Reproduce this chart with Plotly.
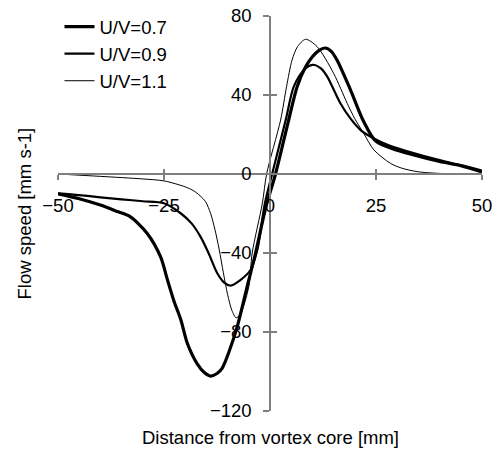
import plotly.graph_objects as go

# U/V = 0.7 (thick)
x_07 = [-50, -45, -40, -36, -33, -29, -25.8, -24.2, -22.7, -21, -19.5, -17.2, -15.5, -14, -12.5, -11.3, -9.5, -7.7, -5.5, -3.4, -1, 1.3, 4.4, 6.4, 8.4, 10, 11.5, 13, 14.5, 15.8, 19, 22, 25, 30, 32.4, 40, 45, 50]
y_07 = [-10, -12.5, -15.7, -19, -21.6, -30, -42, -53.5, -64, -74, -85.7, -96, -100.5, -102.3, -101, -98.4, -89, -77, -58, -40, -17, 0, 27.3, 44.2, 54.3, 59.4, 62.5, 63.8, 62, 57.7, 42.5, 27, 16.5, 12, 10.5, 6.3, 4.2, 1]

# U/V = 0.9 (medium)
x_09 = [-50, -45, -40, -35, -30, -25, -21, -18.5, -16.4, -14.5, -12.5, -10.8, -9.3, -7, -4.6, -3, -1.2, 0.5, 3.7, 5.6, 8, 10, 12, 13.5, 16.6, 19, 21.5, 24.5, 28, 32.4, 40, 45, 50]
y_09 = [-9.8, -10.7, -11.8, -12.8, -13.8, -14.8, -20, -25, -31.7, -40, -50, -55, -56.5, -53.7, -48.6, -38.5, -14.8, 0, 27.3, 44.2, 52.7, 55.3, 53.5, 49.3, 35.8, 28, 22, 18, 14.5, 11.5, 7, 4.5, 1.7]

# U/V = 1.1 (thin)
x_11 = [-50, -40, -30, -25, -20, -18, -16.5, -15.2, -14, -13, -12, -11, -10, -9, -8, -7, -5, -4.2, -1.8, -0.8, 2.5, 3.9, 5.2, 6.5, 8.4, 11.1, 15, 18.2, 20, 22.1, 24.5, 28.4, 31, 34.7, 40, 50]
y_11 = [0, -1.2, -2.5, -3.5, -6.5, -8.5, -11, -14, -20, -28, -38, -50, -61, -69, -72.8, -71, -57, -40, -14.8, 0, 27.3, 44.2, 57.7, 64.5, 68.2, 64.5, 51, 35.8, 28, 20.6, 12.2, 5.4, 3, 1.2, 0.3, 0]

x_ticks = [-50, -25, 0, 25, 50]
y_ticks = [-120, -80, -40, 0, 40, 80]

FONT = "Liberation Sans, Arial, sans-serif"
FS = 18.5
AX = "#7f7f7f"

fig = go.Figure()
fig.add_trace(go.Scatter(x=x_07, y=y_07, mode="lines", name="U/V=0.7",
                         line=dict(color="black", width=3.2, shape="spline", smoothing=0.8)))
fig.add_trace(go.Scatter(x=x_09, y=y_09, mode="lines", name="U/V=0.9",
                         line=dict(color="black", width=2.2, shape="spline", smoothing=0.8)))
fig.add_trace(go.Scatter(x=x_11, y=y_11, mode="lines", name="U/V=1.1",
                         line=dict(color="black", width=1.0, shape="spline", smoothing=0.8)))
# helper trace for the inside-tick overlay axes (ticks crossing the axis lines)
fig.add_trace(go.Scatter(x=[None], y=[None], xaxis="x2", yaxis="y2", showlegend=False, hoverinfo="skip"))

common_x = dict(range=[-50, 50], tickvals=x_ticks, showgrid=False, zeroline=False, automargin=False,
                anchor="free", position=0.6, tickcolor=AX, tickwidth=1.5, ticklen=5)
common_y = dict(range=[-120, 80], tickvals=y_ticks, showgrid=False, zeroline=False, automargin=False,
                anchor="free", position=0.5, tickcolor=AX, tickwidth=1.5, ticklen=6)

fig.update_layout(
    width=494, height=450,
    margin=dict(l=58, r=12, t=16, b=39, autoexpand=False),
    plot_bgcolor="white", paper_bgcolor="white",
    font=dict(family=FONT, size=FS, color="black"),
    showlegend=True,
    legend=dict(x=0.0035, y=1.02, xanchor="left", yanchor="top", bgcolor="rgba(0,0,0,0)",
                font=dict(size=FS), tracegroupgap=0),
    xaxis=dict(**common_x, showline=True, linecolor=AX, linewidth=1.5, ticks="outside",
               tickfont=dict(size=FS), ticklabelstandoff=10, ticklabeloverflow="allow"),
    yaxis=dict(**common_y, showline=True, linecolor=AX, linewidth=1.5, ticks="outside",
               tickfont=dict(size=FS), ticklabelstandoff=8, ticklabeloverflow="allow"),
    xaxis2=dict(**common_x, overlaying="x", showline=False, ticks="inside", showticklabels=False),
    yaxis2=dict(**common_y, overlaying="y", showline=False, ticks="inside", showticklabels=False),
    annotations=[
        dict(text="Distance from vortex core [mm]", xref="paper", yref="paper", x=0.5, y=-0.066,
             xanchor="center", yanchor="middle", showarrow=False, font=dict(size=FS)),
        dict(text="Flow speed [mm s-1]", xref="paper", yref="paper", x=-0.078, y=0.5,
             xanchor="center", yanchor="middle", showarrow=False, textangle=-90, font=dict(size=FS)),
    ],
)

fig.write_html("out.html", config={"displayModeBar": False},
               post_script="document.body.style.margin='0';document.body.style.overflow='hidden';")
